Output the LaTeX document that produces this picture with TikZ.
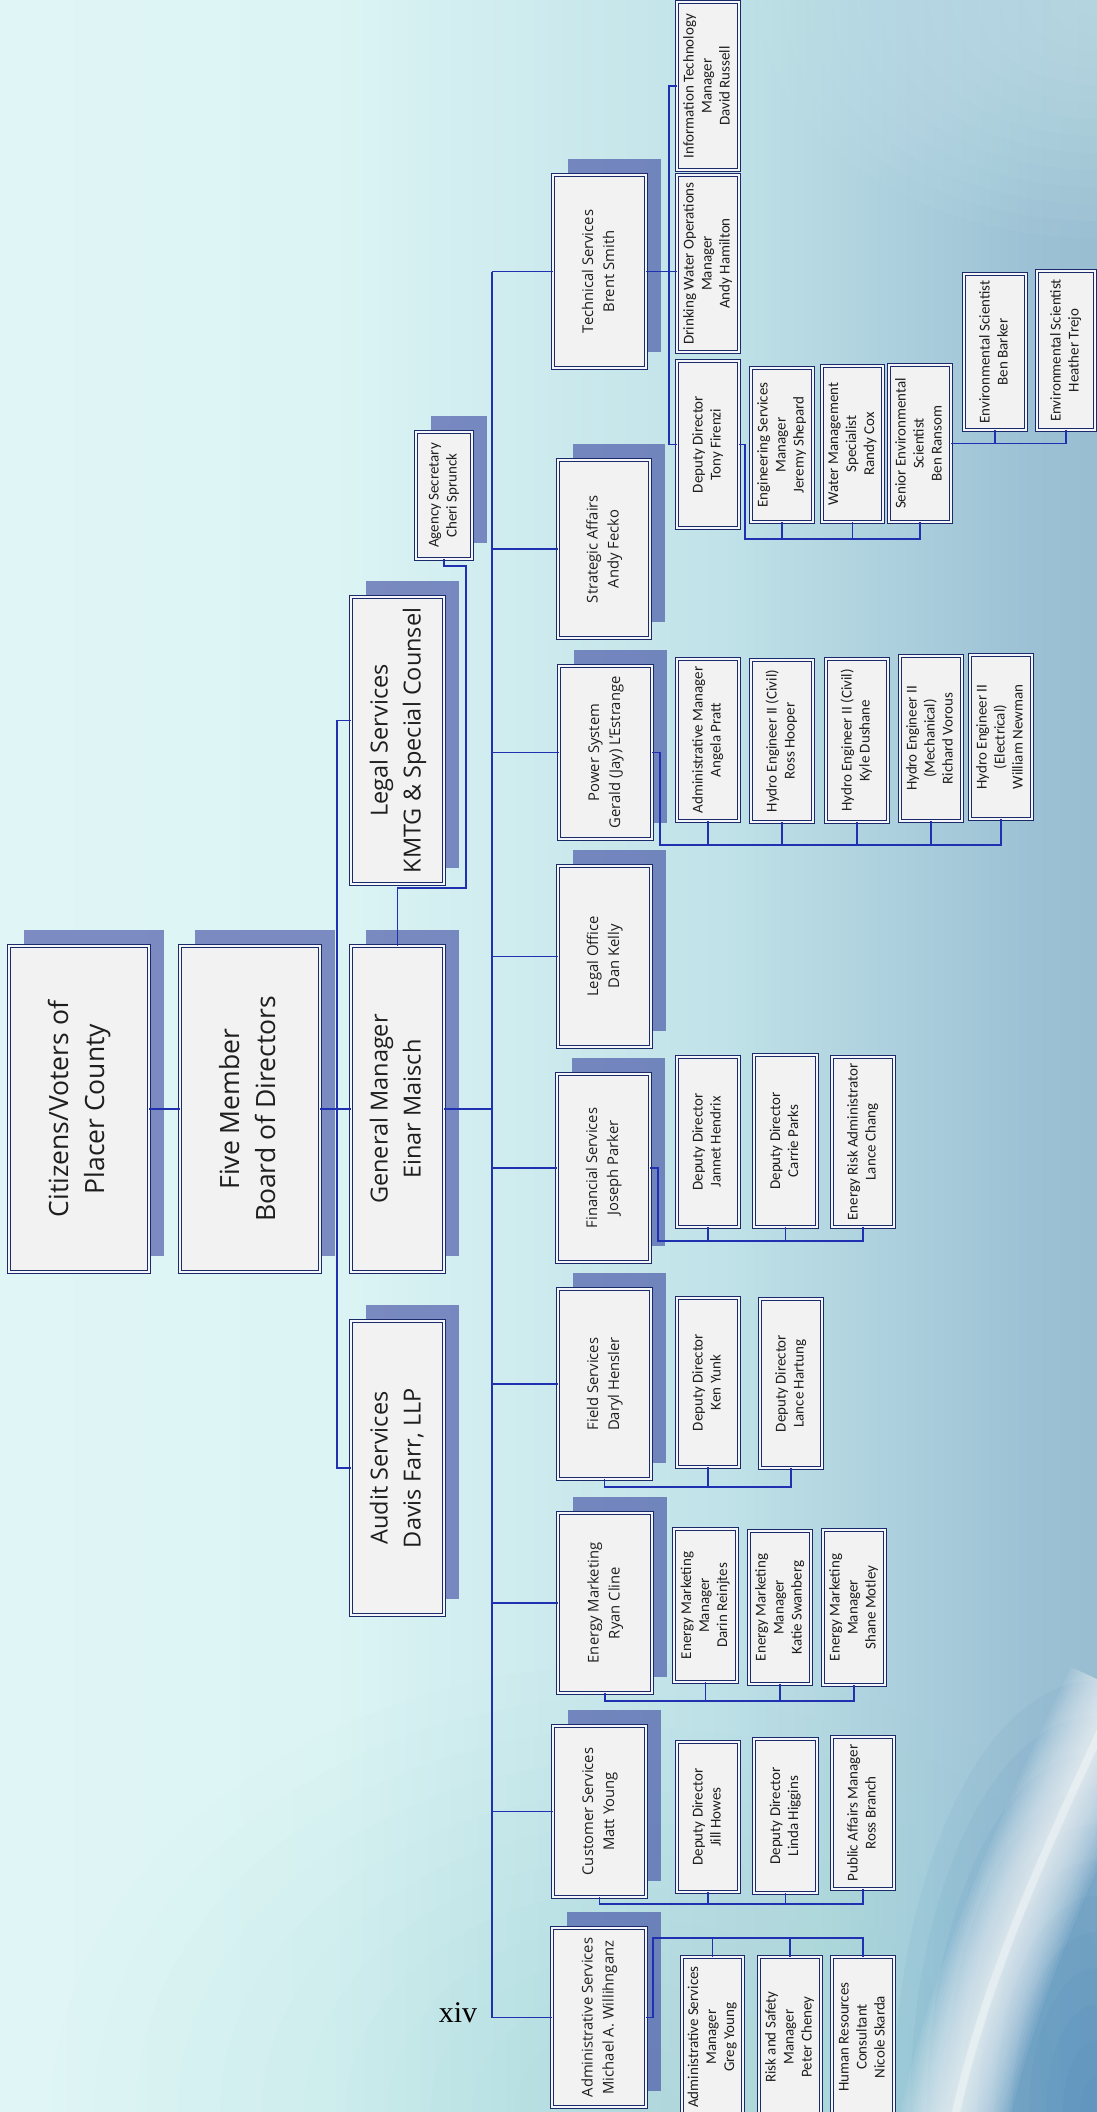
\documentclass[tikz,border=0pt]{standalone}
\usepackage{fontspec}
\usepackage{graphicx}
\usetikzlibrary{shadows}
\newfontfamily\osans{Open Sans}
\newfontfamily\carl{Carlito}
\newfontfamily\tms{Liberation Serif}
\definecolor{navy}{HTML}{1B2A6B}
\definecolor{boxfill}{HTML}{F2F2F2}
\definecolor{boxgap}{HTML}{F4F6FA}
\definecolor{connc}{HTML}{1F30B0}
\definecolor{shadowc}{HTML}{3A45A0}
\definecolor{txt}{HTML}{1E1E1E}
\definecolor{bgA}{HTML}{E8F9F9}
\definecolor{bgB}{HTML}{DCF4F4}
\definecolor{bgC}{HTML}{C0E2E8}
\definecolor{bgD}{HTML}{9CC1D4}
\definecolor{bgE}{HTML}{89AFC8}
\definecolor{bgF}{HTML}{86AEC7}
\definecolor{glowc}{HTML}{D8F5F6}
\definecolor{turq}{HTML}{8FD8DA}
\definecolor{deepb}{HTML}{3A78B2}
\pgfdeclarehorizontalshading{bgsh}{100bp}{color(0bp)=(bgA); color(40bp)=(bgB); color(58bp)=(bgC); color(72bp)=(bgD); color(88bp)=(bgE); color(100bp)=(bgF)}
\newcommand\rt[1]{\rotatebox{90}{\begin{tabular}{@{}c@{}}#1\end{tabular}}}
\begin{document}
\begin{tikzpicture}[x=1pt,y=-1pt,
  bx/.style={draw=navy, line width=0.9pt, double=boxgap, double distance=1.6pt, fill=boxfill, inner sep=0pt, outer sep=0pt, text=txt},
  shd/.style={drop shadow={shadow xshift=15pt, shadow yshift=16pt, fill=shadowc, opacity=0.6}},
  topbox/.style={bx, shd, font=\osans\fontsize{26.5}{36}\selectfont},
  midbox/.style={bx, shd, font=\osans\fontsize{23.5}{33}\selectfont},
  deptbox/.style={bx, shd, font=\osans\fontsize{14.8}{21}\selectfont},
  agbox/.style={bx, shd, font=\carl\fontsize{15}{18}\selectfont},
  kidbox/.style={bx, font=\carl\fontsize{15}{18}\selectfont},
  conn/.style={draw=connc, line width=1.3pt}]
\useasboundingbox (0,0) rectangle (1097,2112);
\clip (0,0) rectangle (1097,2112);
% background
\shade[shading=bgsh] (0,0) rectangle (1097,2112);
\foreach \r in {1,...,14} \fill[glowc, opacity=0.05] (1097,0) ellipse ({24*\r} and {17*\r});
\foreach \r in {1,...,14} \fill[turq, opacity=0.025] (640,2112) ellipse ({42*\r} and {32*\r});
\foreach \r in {1,...,12} \fill[deepb, opacity=0.06] (1097,2112) ellipse ({17*\r} and {36*\r});
\foreach \w in {6,12,...,110} \draw[white, opacity=0.07, line width=\w pt] (1120,1690) .. controls (1040,1860) and (980,1990) .. (950,2140);
\draw[white, opacity=0.35, line width=8pt] (1120,1690) .. controls (1040,1860) and (980,1990) .. (950,2140);

% top level
\node[topbox, minimum width=140pt, minimum height=326pt] (cit) at (79,1109) {\rt{Citizens/Voters of\\Placer County}};
\node[topbox, minimum width=140pt, minimum height=326pt] (brd) at (250,1109) {\rt{Five Member\\Board of Directors}};
\node[midbox, minimum width=93pt, minimum height=326pt] (gm) at (397.5,1109) {\rt{General Manager\\Einar Maisch}};
\node[midbox, minimum width=93pt, minimum height=287pt] (legal) at (397.5,740.5) {\rt{Legal Services\\KMTG \& Special Counsel}};
\node[midbox, minimum width=93pt, minimum height=294pt] (audit) at (397.5,1468) {\rt{Audit Services\\Davis Farr, LLP}};
\node[agbox, minimum width=56pt, minimum height=127pt] (agency) at (444,495.5) {\rt{Agency Secretary\\Cheri Sprunck}};

% departments
\node[deptbox, minimum width=93pt, minimum height=193pt] (tech) at (599.5,271.5) {\rt{Technical Services\\Brent Smith}};
\node[deptbox, minimum width=92pt, minimum height=178pt] (strat) at (604,549) {\rt{Strategic Affairs\\Andy Fecko}};
\node[deptbox, minimum width=93pt, minimum height=173pt] (power) at (605.5,752.5) {\rt{Power System\\Gerald (Jay) L’Estrange}};
\node[deptbox, minimum width=93pt, minimum height=181pt] (legoff) at (604.5,956.5) {\rt{Legal Office\\Dan Kelly}};
\node[deptbox, minimum width=93pt, minimum height=188pt] (fin) at (603.5,1168) {\rt{Financial Services\\Joseph Parker}};
\node[deptbox, minimum width=93pt, minimum height=190pt] (field) at (604.5,1384) {\rt{Field Services\\Daryl Hensler}};
\node[deptbox, minimum width=94pt, minimum height=180pt] (em) at (605,1603) {\rt{Energy Marketing\\Ryan Cline}};
\node[deptbox, minimum width=93pt, minimum height=171pt] (cust) at (599.5,1811.5) {\rt{Customer Services\\Matt Young}};
\node[deptbox, minimum width=94pt, minimum height=179pt] (admin) at (599,2017.5) {\rt{Administrative Services\\Michael A. Willihnganz}};

% technical services children
\node[kidbox, minimum width=62pt, minimum height=168pt] (it) at (708,86) {\rt{Information Technology\\Manager\\David Russell}};
\node[kidbox, minimum width=62pt, minimum height=177pt] (dw) at (708,263.5) {\rt{Drinking Water Operations\\Manager\\Andy Hamilton}};
\node[kidbox, minimum width=62pt, minimum height=167pt] (tony) at (708,444.5) {\rt{Deputy Director\\Tony Firenzi}};
\node[kidbox, minimum width=62pt, minimum height=154pt] (jeremy) at (782,445) {\rt{Engineering Services\\Manager\\Jeremy Shepard}};
\node[kidbox, minimum width=61pt, minimum height=156pt] (randy) at (852.5,444) {\rt{Water Management\\Specialist\\Randy Cox}};
\node[kidbox, minimum width=62pt, minimum height=157pt] (ransom) at (920,443.5) {\rt{Senior Environmental\\Scientist\\Ben Ransom}};
\node[kidbox, minimum width=62pt, minimum height=156pt] (barker) at (995,352) {\rt{Environmental Scientist\\Ben Barker}};
\node[kidbox, minimum width=58pt, minimum height=159pt] (trejo) at (1066,350.5) {\rt{Environmental Scientist\\Heather Trejo}};

% power system children
\node[kidbox, minimum width=62pt, minimum height=162pt] (pratt) at (708,740) {\rt{Administrative Manager\\Angela Pratt}};
\node[kidbox, minimum width=62pt, minimum height=162pt] (hooper) at (782,741) {\rt{Hydro Engineer II (Civil)\\Ross Hooper}};
\node[kidbox, minimum width=62pt, minimum height=163pt] (dushane) at (857,740.5) {\rt{Hydro Engineer II (Civil)\\Kyle Dushane}};
\node[kidbox, minimum width=62pt, minimum height=165pt] (vorous) at (931,738.5) {\rt{Hydro Engineer II\\(Mechanical)\\Richard Vorous}};
\node[kidbox, minimum width=62pt, minimum height=164pt] (newman) at (1001,737) {\rt{Hydro Engineer II\\(Electrical)\\William Newman}};

% financial children
\node[kidbox, minimum width=62pt, minimum height=170pt] (hendrix) at (708,1142) {\rt{Deputy Director\\Jannet Hendrix}};
\node[kidbox, minimum width=63pt, minimum height=172pt] (parks) at (785.5,1141) {\rt{Deputy Director\\Carrie Parks}};
\node[kidbox, minimum width=62pt, minimum height=170pt] (chang) at (863,1142) {\rt{Energy Risk Administrator\\Lance Chang}};

% field children
\node[kidbox, minimum width=62pt, minimum height=169pt] (ken) at (708,1382.5) {\rt{Deputy Director\\Ken Yunk}};
\node[kidbox, minimum width=62pt, minimum height=169pt] (lance) at (791,1383.5) {\rt{Deputy Director\\Lance Hartung}};

% energy marketing children
\node[kidbox, minimum width=63pt, minimum height=153pt] (darin) at (705.5,1605.5) {\rt{Energy Marketing\\Manager\\Darin Reinjtes}};
\node[kidbox, minimum width=62pt, minimum height=153pt] (katie) at (780,1607.5) {\rt{Energy Marketing\\Manager\\Katie Swanberg}};
\node[kidbox, minimum width=62pt, minimum height=155pt] (shane) at (854,1607.5) {\rt{Energy Marketing\\Manager\\Shane Motley}};

% customer children
\node[kidbox, minimum width=62pt, minimum height=150pt] (howes) at (708,1817) {\rt{Deputy Director\\Jill Howes}};
\node[kidbox, minimum width=63pt, minimum height=154pt] (higgins) at (785.5,1816) {\rt{Deputy Director\\Linda Higgins}};
\node[kidbox, minimum width=62pt, minimum height=152pt] (branch) at (863,1813) {\rt{Public Affairs Manager\\Ross Branch}};

% admin children
\node[kidbox, minimum width=61pt, minimum height=160pt] (gyoung) at (712.5,2037) {\rt{Administrative Services\\Manager\\Greg Young}};
\node[kidbox, minimum width=62pt, minimum height=160pt] (risk) at (790,2037) {\rt{Risk and Safety\\Manager\\Peter Cheney}};
\node[kidbox, minimum width=62pt, minimum height=160pt] (hr) at (863,2037) {\rt{Human Resources\\Consultant\\Nicole Skarda}};

% page number
\node[font=\tms\fontsize{30}{36}\selectfont, text=black, inner sep=0pt, anchor=base] (pg) at (458,2022) {xiv};

% connectors: top
\coordinate (lj) at (337,1109);
\draw[conn] (cit.east) -- (brd.west);
\draw[conn] (brd.east) -- (gm.west);
\draw[conn] ([yshift=20pt]legal.west) -| (lj) |- (audit.west);
\coordinate (ag1) at (466,888);
\draw[conn] (agency.south) -- ++(0,7) -| (ag1) -| (gm.north);

% bus
\coordinate (bt) at (492,271.5);
\coordinate (bb) at (492,2017.5);
\draw[conn] (gm.east) -- (gm.east -| bt);
\draw[conn] (bt) -- (bb);
\foreach \d in {tech,strat,power,legoff,fin,field,em,cust,admin}
  \draw[conn] (\d.west -| bt) -- (\d.west);

% technical services
\coordinate (tj) at (669,0);
\draw[conn] (tech.east) -- (tech.east -| dw.west);
\draw[conn] (it.west) -| (tj |- tony.west) -- (tony.west);
\coordinate (tb) at (745,539);
\draw[conn] (tony.east) -| (tb) -| (ransom.south);
\foreach \k in {jeremy,randy} \draw[conn] (\k.south) -- (\k.south |- tb);
\draw[conn] (ransom.east) -| (trejo.south);
\draw[conn] (barker.south) -- (barker.south |- ransom.east);

% power system
\coordinate (pb) at (660,845);
\draw[conn] (power.east) -| (pb) -| (newman.south);
\foreach \k in {pratt,hooper,dushane,vorous} \draw[conn] (\k.south) -- (\k.south |- pb);

% financial
\coordinate (fb) at (658,1241);
\draw[conn] (fin.east) -| (fb) -| (chang.south);
\foreach \k in {hendrix,parks} \draw[conn] (\k.south) -- (\k.south |- fb);

% field
\coordinate (flb) at (0,1487);
\draw[conn] (field.south) |- (flb -| lance.south) -- (lance.south);
\draw[conn] (ken.south) -- (ken.south |- flb);

% energy marketing
\coordinate (emb) at (0,1701);
\draw[conn] (em.south) |- (emb -| shane.south) -- (shane.south);
\foreach \k in {darin,katie} \draw[conn] (\k.south) -- (\k.south |- emb);

% customer
\coordinate (cb) at (0,1904);
\draw[conn] (cust.south) |- (cb -| branch.south) -- (branch.south);
\foreach \k in {howes,higgins} \draw[conn] (\k.south) -- (\k.south |- cb);

% admin
\coordinate (ab) at (653,1938);
\draw[conn] (admin.east) -| (ab) -| (hr.north);
\foreach \k in {gyoung,risk} \draw[conn] (\k.north) -- (\k.north |- ab);
\end{tikzpicture}
\end{document}
